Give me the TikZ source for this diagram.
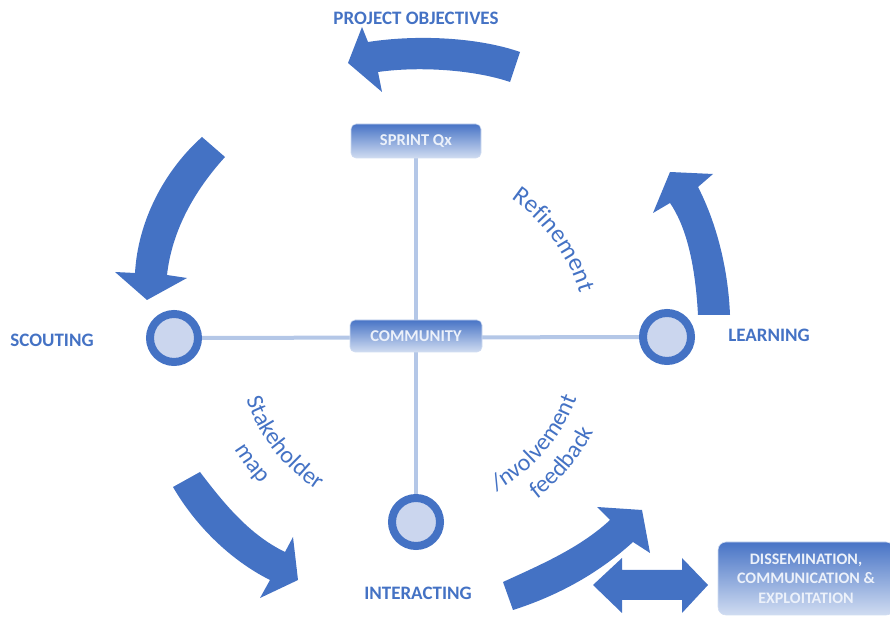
\documentclass[tikz,border=0pt]{standalone}
\usepackage{fontspec}
\setmainfont{Carlito}
\usetikzlibrary{decorations.text,backgrounds}
\definecolor{mblue}{RGB}{68,114,196}
\definecolor{lblue}{RGB}{180,199,231}
\definecolor{cfill}{RGB}{203,214,238}
\definecolor{btop}{RGB}{72,116,198}
\definecolor{bbot}{RGB}{208,220,241}
\definecolor{btext}{RGB}{236,241,250}
\begin{document}
\begin{tikzpicture}[x=1pt,y=1pt,
 lbl/.style={font=\bfseries\fontsize{19}{22}\selectfont, text=mblue, inner sep=0pt},
 gbox/.style={rounded corners=5pt, top color=btop, bottom color=bbot, draw=bbot, line width=0.6pt, text=btext, font=\bfseries\fontsize{16.5}{20}\selectfont, align=center, inner sep=0pt},
 ring/.style={circle, draw=mblue, line width=8pt, fill=cfill, minimum size=48pt, inner sep=0pt},
 conn/.style={draw=lblue, line width=4pt},
 band/.style={fill=mblue},
 ctext/.style={decorate, decoration={text along path, text align=center, text color=mblue}},
 ]
\useasboundingbox (0,0) rectangle (890,617);
\coordinate (C) at (416,277);
% nodes
\node[gbox, minimum width=130pt, minimum height=34pt] (sprint) at (416,476) {SPRINT Qx};
\node[gbox, minimum width=132pt, minimum height=32pt] (comm) at (416,281) {COMMUNITY};
\node[ring] (scout) at (174,279) {};
\node[ring] (learn) at (667,280) {};
\node[ring] (inter) at (416,95) {};
\node[gbox, minimum width=176pt, minimum height=73pt, rounded corners=8pt, font=\bfseries\fontsize{16}{19.5}\selectfont] (diss) at (806,38.5) {DISSEMINATION,\\ COMMUNICATION \&\\ EXPLOITATION};
% connectors
\begin{scope}[on background layer]
\draw[conn] (scout) -- (learn);
\draw[conn] (sprint) -- (inter);
\end{scope}
% labels
\node[lbl] (po) at (416,599) {PROJECT OBJECTIVES};
\node[lbl] (sc) at (52,277) {SCOUTING};
\node[lbl] (le) at (769,282) {LEARNING};
\node[lbl] (in) at (418,24) {INTERACTING};
% curved arrows
\fill[band] (520,565) -- (510,535) .. controls (475,547) and (420,551) .. (378,545) -- (382,525) -- (348,554) -- (362,590) -- (368,575) .. controls (420,583) and (480,579) .. (520,565) -- cycle;
\fill[band] (202,480) -- (225,460) .. controls (195,427) and (172,387) .. (167,342) -- (187,339) -- (147,317) -- (115,345) -- (135,344) .. controls (138,397) and (165,447) .. (202,480) -- cycle;
\fill[band] (698,302) .. controls (695,357) and (685,392) .. (670,414) -- (653,404) -- (670,445) -- (713,443) -- (698,430) .. controls (715,397) and (728,352) .. (730,302) -- cycle;
\fill[band] (173,130) -- (200,145) .. controls (225,112) and (250,82) .. (285,65) -- (293,80) -- (298,37) -- (260,19) -- (270,37) .. controls (230,57) and (195,92) .. (173,130) -- cycle;
\fill[band] (503,35) .. controls (540,52) and (580,69) .. (610,97) -- (597,110) -- (642,107) -- (650,64) -- (633,75) .. controls (600,45) and (560,22) .. (513,7) -- cycle;
% double arrow
\fill[band] (593,32) -- (622,59) -- (622,47) -- (682,47) -- (682,59) -- (708,32) -- (682,4) -- (682,17) -- (622,17) -- (622,4) -- cycle;
% curved texts
\path[ctext, decoration={text={|\fontsize{25}{29}\selectfont|Refinement}}] (C) ++(76:170) arc[start angle=76, end angle=-4, radius=170];
\path[ctext, decoration={text={|\fontsize{24}{28}\selectfont|Stakeholder}}] (C) ++(170:180) arc[start angle=170, end angle=266, radius=180];
\path[ctext, decoration={text={|\fontsize{24}{28}\selectfont|map}}] (C) ++(177:212) arc[start angle=177, end angle=257, radius=212];
\path[ctext, decoration={text={|\fontsize{24}{28}\selectfont|/nvolvement}}] (C) ++(-86:171) arc[start angle=-86, end angle=4, radius=171];
\path[ctext, decoration={text={|\fontsize{24}{28}\selectfont|feedback}}] (C) ++(-85:200) arc[start angle=-85, end angle=5, radius=200];
\end{tikzpicture}
\end{document}
